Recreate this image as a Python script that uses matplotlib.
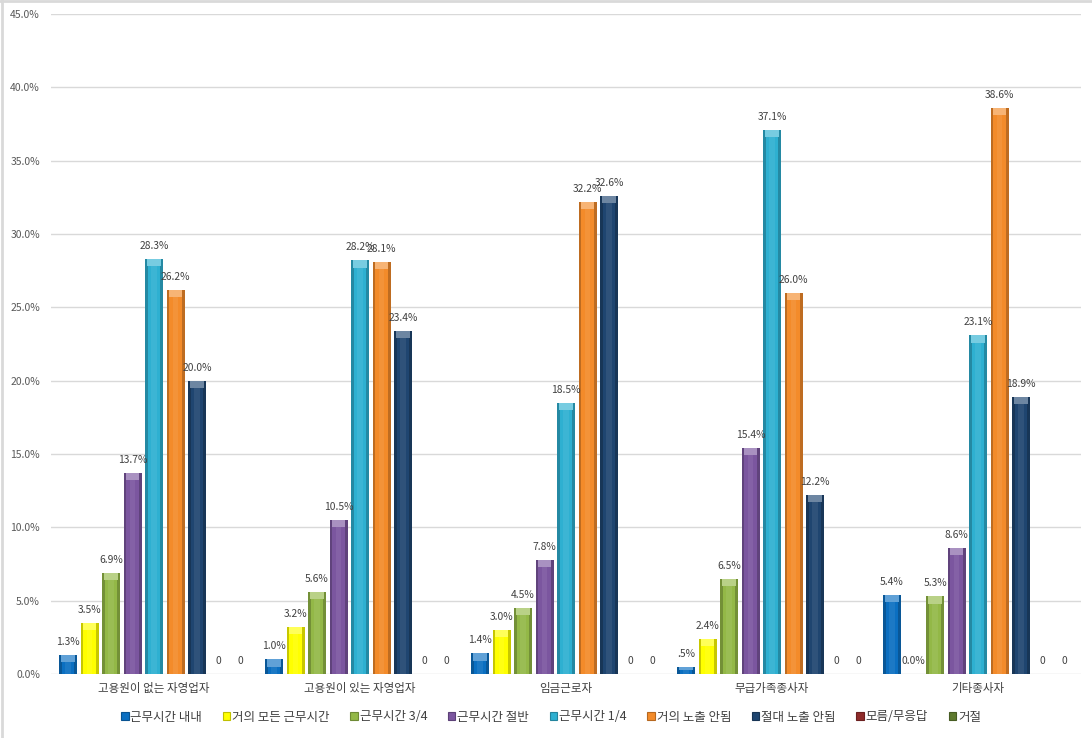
import matplotlib
matplotlib.use("Agg")
import matplotlib.pyplot as plt
import matplotlib.colors as mcolors
from matplotlib.patches import Patch
from matplotlib.lines import Line2D
import numpy as np

plt.rcParams['font.family'] = ['Noto Sans CJK KR', 'DejaVu Sans']

categories = ['고용원이 없는 자영업자', '고용원이 있는 자영업자', '임금근로자', '무급가족종사자', '기타종사자']
series = ['근무시간 내내', '거의 모든 근무시간', '근무시간 3/4', '근무시간 절반', '근무시간 1/4',
          '거의 노출 안됨', '절대 노출 안됨', '모름/무응답', '거절']
# values in percent, one list per series (in category order)
all_time   = [1.3, 1.0, 1.4, 0.5, 5.4]
almost_all = [3.5, 3.2, 3.0, 2.4, 0.0]
three_qtr  = [6.9, 5.6, 4.5, 6.5, 5.3]
half_time  = [13.7, 10.5, 7.8, 15.4, 8.6]
one_qtr    = [28.3, 28.2, 18.5, 37.1, 23.1]
rarely     = [26.2, 28.1, 32.2, 26.0, 38.6]
never      = [20.0, 23.4, 32.6, 12.2, 18.9]
dont_know  = [0, 0, 0, 0, 0]
refused    = [0, 0, 0, 0, 0]
values = [all_time, almost_all, three_qtr, half_time, one_qtr, rarely, never, dont_know, refused]
count_only = [False] * 7 + [True, True]   # last two series are labelled as plain counts

colors = ['#0B6FC1', '#FFFF00', '#93B847', '#7B569F', '#2EB0D1', '#F38B2A', '#1F4570', '#8E2B2A', '#5E7A2E']


def shade(c, f):
    r, g, b = mcolors.to_rgb(c)
    if f < 1:
        return (r * f, g * f, b * f)
    f = f - 1
    return (r + (1 - r) * f, g + (1 - g) * f, b + (1 - b) * f)


def fmt(v, plain):
    if plain:
        return '%d' % v
    s = '%.1f%%' % v
    if s.startswith('0.') and v > 0:
        s = s[1:]
    return s


fig = plt.figure(figsize=(10.92, 7.38), dpi=100)
ax = fig.add_axes([51 / 1092, 1 - 674 / 738, 1030 / 1092, 660 / 738])

x = np.arange(len(categories))
slot = 21.5 / 206
w = 18 / 206
for j, (vals, c) in enumerate(zip(values, colors)):
    xs = x + (j - 4) * slot
    vals = np.asarray(vals, dtype=float)
    # bevelled look: dark outer, lighter inner, light cap on top
    ax.bar(xs, vals, w, color=shade(c, 0.78), zorder=3)
    ax.bar(xs, vals, w * 0.7, color=c, zorder=4)
    ax.bar(xs, vals, w * 0.3, color=shade(c, 1.12), zorder=4, alpha=0.6)
    cap = np.minimum(0.5, vals * 0.5)
    ax.bar(xs, cap, w * 0.75, bottom=vals - cap, color=shade(c, 1.35), zorder=5)
    for xi, v in zip(xs, vals):
        ax.text(xi, v + 0.55, fmt(v, count_only[j]), ha='center', va='bottom',
                fontsize=7.4, color='#404040', zorder=6)

ax.set_xlim(-0.5, len(categories) - 0.5)
ax.set_ylim(0, 45)
ax.set_yticks(np.arange(0, 46, 5))
ax.set_yticklabels(['%.1f%%' % t for t in np.arange(0, 46, 5)])
ax.set_xticks(x)
ax.set_xticklabels(categories)
ax.tick_params(axis='y', length=0, pad=8, labelsize=7.5, labelcolor='#595959')
ax.tick_params(axis='x', length=0, pad=6, labelsize=8.3, labelcolor='#404040')
ax.grid(axis='y', color='#D9D9D9', linewidth=1, zorder=0)
for s in ax.spines.values():
    s.set_visible(False)

handles = [Patch(facecolor=c, edgecolor=shade(c, 0.75), linewidth=0.8) for c in colors]
fig.legend(handles, series, loc='center', bbox_to_anchor=(551 / 1092, 1 - 717 / 738), ncol=9,
           frameon=False, fontsize=9, handlelength=0.6, handleheight=0.6,
           handletextpad=0.15, columnspacing=1.65, labelcolor='#404040')

# chart area border visible at the left and top edges
fig.add_artist(Line2D([0.002, 0.002], [0, 1], color='#D9D9D9', linewidth=2, transform=fig.transFigure))
fig.add_artist(Line2D([0, 1], [0.999, 0.999], color='#D9D9D9', linewidth=2, transform=fig.transFigure))

fig.savefig('out.png', dpi=100)
